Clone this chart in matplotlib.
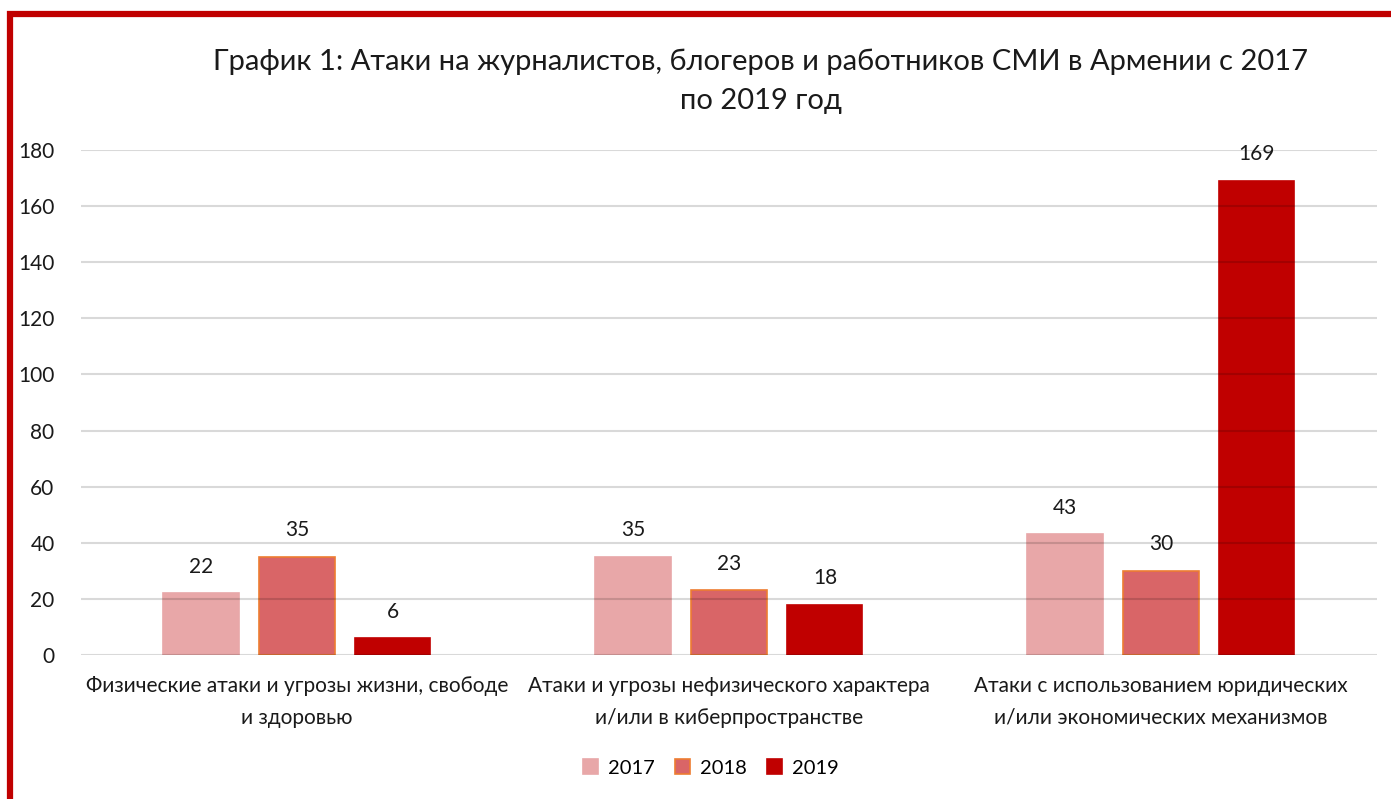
import numpy as np
import matplotlib.pyplot as plt
from matplotlib.patches import Rectangle

plt.rcParams['font.family'] = ['Lato', 'DejaVu Sans']

categories = ["Физические атаки и угрозы жизни, свободе\nи здоровью",
              "Атаки и угрозы нефизического характера\nи/или в киберпространстве",
              "Атаки с использованием юридических\nи/или экономических механизмов"]
years   = ["2017", "2018", "2019"]
v2017   = [22, 35, 43]
v2018   = [35, 23, 30]
v2019   = [6, 18, 169]
yticks  = [0, 20, 40, 60, 80, 100, 120, 140, 160, 180]
title   = "График 1: Атаки на журналистов, блогеров и работников СМИ в Армении с 2017\nпо 2019 год"

colors = ["#E8A7A8", "#D96567", "#C00000"]
edges  = ["#E8A7A8", "#ED7D31", "#C00000"]

fig = plt.figure(figsize=(13.91, 7.99), dpi=100)
ax = fig.add_axes([0.0582, 0.1802, 0.9317, 0.6321])

x = np.arange(len(categories))
w = 0.174
step = 0.222
for i, (vals, lab) in enumerate(zip([v2017, v2018, v2019], years)):
  bars = ax.bar(x + (i-1)*step, vals, w, color=colors[i], edgecolor=edges[i],
                linewidth=1.2, label=lab, zorder=1)
  for b, v in zip(bars, vals):
    ax.annotate(str(v), (b.get_x()+b.get_width()/2, v), xytext=(0, 12),
                textcoords="offset points", ha='center', va='bottom',
                fontsize=15, color='#1a1a1a', annotation_clip=False)

ax.set_xlim(-0.5, 2.5)
ax.set_ylim(0, 180)
ax.set_yticks(yticks)
ax.set_xticks(x)
ax.set_xticklabels(categories, fontsize=15, linespacing=1.75)
ax.tick_params(axis='y', length=0, pad=19, labelsize=15, labelcolor='#1a1a1a')
ax.tick_params(axis='x', length=0, pad=15, labelcolor='#1a1a1a')
ax.yaxis.grid(True, color='black', alpha=0.15, linewidth=1.5, zorder=3)
ax.set_axisbelow(False)
for s in ax.spines.values():
  s.set_visible(False)

fig.text(0.547, 0.898, title, ha='center', va='center', fontsize=21,
         linespacing=1.6, color='#1a1a1a')

ax.legend(loc='center', bbox_to_anchor=(0.511, 0.039), bbox_transform=fig.transFigure,
          ncol=3, frameon=False, fontsize=14.5, handlelength=0.75, handleheight=0.75,
          handletextpad=0.5, columnspacing=1.0)

# red frame around the chart
fig.patches.append(Rectangle((9.5/1391, -0.2), 1.2, 0.2 + 1 - 14/799, transform=fig.transFigure,
                             fill=False, edgecolor='#C00000', linewidth=4.5))

fig.savefig("out.png", dpi=100)
